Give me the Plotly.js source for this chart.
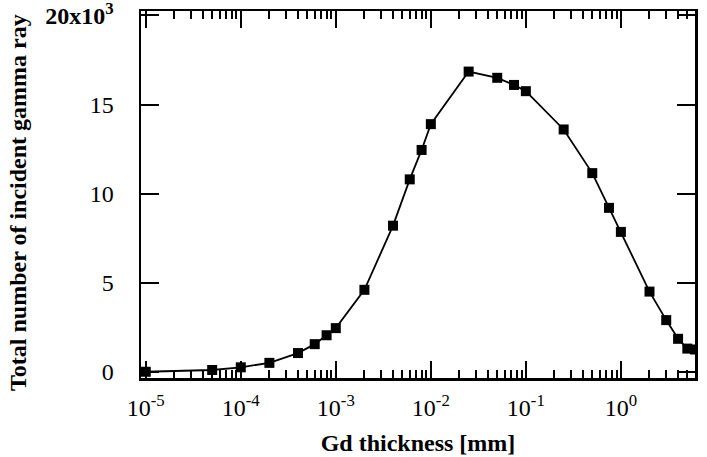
<!DOCTYPE html>
<html>
<head>
<meta charset="utf-8">
<script src="https://cdn.plot.ly/plotly-3.0.1.min.js"></script>
<style>html,body{margin:0;padding:0;background:#fff;}</style>
</head>
<body>
<div id="chart" style="width:707px;height:457px;"></div>
<script>
// Gd thickness [mm]
const thickness = [1e-5, 5e-5, 1e-4, 2e-4, 4e-4, 6e-4, 8e-4, 1e-3, 2e-3, 4e-3, 6e-3, 8e-3, 1e-2, 2.5e-2, 5e-2, 7.5e-2, 1e-1, 2.5e-1, 5e-1, 7.5e-1, 1, 2, 3, 4, 5, 6];
// Total number of incident gamma ray
const gammaCount = [0, 100, 250, 500, 1050, 1550, 2050, 2450, 4600, 8200, 10800, 12450, 13900, 16850, 16500, 16100, 15750, 13600, 11150, 9200, 7850, 4500, 2900, 1850, 1300, 1250];

const xTickVals = [1e-5, 1e-4, 1e-3, 1e-2, 1e-1, 1];
const xTickText = ['10<sup>-5</sup>', '10<sup>-4</sup>', '10<sup>-3</sup>', '10<sup>-2</sup>', '10<sup>-1</sup>', '10<sup>0</sup>'];
const yTickVals = [0, 5000, 10000, 15000, 20000];
const yTickText = ['0', '5', '10', '15', '<b>20x10<sup>3</sup></b>'];
const xTitle = 'Gd thickness [mm]';
const yTitle = 'Total number of incident gamma ray';

const serif = 'Liberation Serif, Times New Roman, serif';

const trace = {
  x: thickness,
  y: gammaCount,
  type: 'scatter',
  mode: 'lines+markers',
  line: {color: '#000', width: 1.8},
  marker: {symbol: 'square', size: 10, color: '#000'},
  hoverinfo: 'x+y'
};

const layout = {
  width: 707,
  height: 457,
  margin: {l: 141, r: 12, t: 11, b: 79},
  paper_bgcolor: '#fff',
  plot_bgcolor: '#fff',
  showlegend: false,
  font: {family: serif, color: '#000'},
  xaxis: {
    type: 'log',
    range: [-5.05, 0.78],
    tickvals: xTickVals,
    ticktext: xTickText,
    ticks: 'inside',
    ticklen: 17,
    tickwidth: 2,
    tickcolor: '#000',
    showline: true,
    linewidth: 2.5,
    linecolor: '#000',
    mirror: 'allticks',
    showgrid: false,
    zeroline: false,
    ticklabeloverflow: 'allow',
    ticklabelstandoff: 7,
    tickfont: {family: serif, size: 24, color: '#000'},
    minor: {ticks: 'inside', ticklen: 8, tickwidth: 2, tickcolor: '#000', dtick: 'D1', showgrid: false},
    title: {text: '<b>' + xTitle + '</b>', font: {family: serif, size: 24, color: '#000'}, standoff: 14}
  },
  yaxis: {
    range: [-350, 20250],
    tickvals: yTickVals,
    ticktext: yTickText,
    ticks: 'inside',
    ticklen: 18,
    tickwidth: 2,
    tickcolor: '#000',
    showline: true,
    linewidth: 2.5,
    linecolor: '#000',
    mirror: 'allticks',
    showgrid: false,
    zeroline: false,
    ticklabeloverflow: 'allow',
    ticklabelstandoff: 20,
    tickfont: {family: serif, size: 24, color: '#000'}
  },
  annotations: [{
    text: '<b>' + yTitle + '</b>',
    xref: 'paper', yref: 'paper',
    x: 0, y: 0.477,
    xanchor: 'center', yanchor: 'middle',
    xshift: -123,
    textangle: -90,
    showarrow: false,
    font: {family: serif, size: 24, color: '#000'}
  }]
};

Plotly.newPlot('chart', [trace], layout, {displayModeBar: false, staticPlot: true});
</script>
</body>
</html>
